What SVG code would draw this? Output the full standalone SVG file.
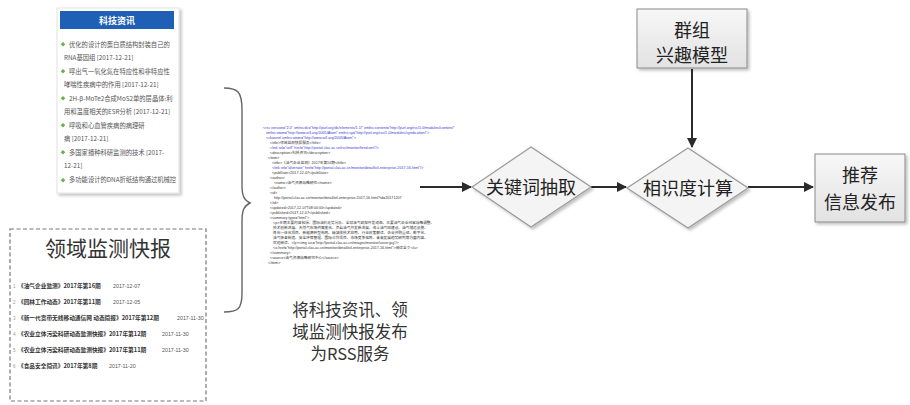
<svg xmlns="http://www.w3.org/2000/svg" width="910" height="405" viewBox="0 0 910 405">
<defs>
<marker id="ah" viewBox="0 0 10 10" refX="9" refY="5" markerWidth="5" markerHeight="5" orient="auto" markerUnits="strokeWidth"><path d="M0,0 L10,5 L0,10 Z" fill="#2b2b2b"/></marker>
<linearGradient id="bx" x1="0" y1="0" x2="0" y2="1"><stop offset="0" stop-color="#f7f7f7"/><stop offset="1" stop-color="#e2e2e2"/></linearGradient>
<filter id="sh" x="-10%" y="-10%" width="130%" height="130%"><feDropShadow dx="2" dy="2" stdDeviation="1.5" flood-color="#000" flood-opacity="0.25"/></filter>
</defs>
<style>
.cjk{font-family:"Noto Sans CJK SC","Noto Sans",sans-serif;}
.node{font-family:"Noto Sans CJK SC",sans-serif;font-size:18px;fill:#222;text-anchor:middle;}
.it{font-family:"Noto Sans CJK SC",sans-serif;font-size:6.3px;fill:#555;}
.bl{font-family:"Noto Sans CJK SC",sans-serif;font-size:5.7px;fill:#333;font-weight:bold;}
.dt{font-family:"Liberation Sans",sans-serif;font-size:5.3px;fill:#555;}
.num{font-family:"Liberation Sans",sans-serif;font-size:4.5px;fill:#999;}
.x{font-family:"Liberation Sans","Noto Sans CJK SC",sans-serif;font-size:3.7px;fill:#333;}
.xb{font-family:"Liberation Sans",sans-serif;font-size:3.7px;fill:#3a3ad0;}
.con{stroke:#2b2b2b;stroke-width:2;fill:none;marker-end:url(#ah);}
</style>
<rect width="910" height="405" fill="#fff"/>

<g id="news-panel">
<rect x="57" y="8" width="122" height="185" fill="#fff" stroke="#e4e4e4" filter="url(#sh)"/>
<rect x="60" y="11" width="114" height="18" fill="#1f5fb5"/>
<text x="117" y="24" class="cjk" font-size="9" font-weight="bold" fill="#fff" text-anchor="middle">科技资讯</text>
<g fill="#6ab04c">
<path d="M63,42 l2.3,2.3 l-2.3,2.3 l-2.3,-2.3z"/>
<path d="M63,69 l2.3,2.3 l-2.3,2.3 l-2.3,-2.3z"/>
<path d="M63,96 l2.3,2.3 l-2.3,2.3 l-2.3,-2.3z"/>
<path d="M63,123 l2.3,2.3 l-2.3,2.3 l-2.3,-2.3z"/>
<path d="M63,150 l2.3,2.3 l-2.3,2.3 l-2.3,-2.3z"/>
<path d="M63,178 l2.3,2.3 l-2.3,2.3 l-2.3,-2.3z"/>
</g>
<text x="69" y="46.5" class="it">优化的设计的蛋白质结构封装自己的</text>
<text x="64" y="60" class="it">RNA基因组 [2017-12-21]</text>
<text x="69" y="73.5" class="it">呼出气一氧化氮在特应性和非特应性</text>
<text x="64" y="87" class="it">哮喘性疾病中的作用 [2017-12-21]</text>
<text x="69" y="100.5" class="it">2H-β-MoTe2合成MoS2单的层晶体:利</text>
<text x="64" y="114" class="it">用和温度相关的ESR分析 [2017-12-21]</text>
<text x="69" y="127.5" class="it">呼吸和心血管疾病的病理研</text>
<text x="64" y="141" class="it">病 [2017-12-21]</text>
<text x="69" y="154.5" class="it">多国家播种科研监测的技术 [2017-</text>
<text x="64" y="168" class="it">12-21]</text>
<text x="69" y="182" class="it">多功能设计的DNA折纸结构通过机械控</text>
</g>

<g id="bulletin-panel">
<rect x="10" y="229" width="196" height="172" fill="#fff" stroke="#777" stroke-width="1.2" stroke-dasharray="4,2.5"/>
<text x="108" y="256" font-family="Noto Sans CJK SC,sans-serif" font-size="21" fill="#333" text-anchor="middle">领域监测快报</text>
<text x="13" y="288" class="num">1</text>
<text x="18" y="288" class="bl">《油气企业监测》2017年第16期</text>
<text x="113" y="288" class="dt">2017-12-07</text>
<text x="13" y="304" class="num">2</text>
<text x="18" y="304" class="bl">《园林工作动态》2017年第11期</text>
<text x="113" y="304" class="dt">2017-12-05</text>
<text x="13" y="320" class="num">3</text>
<text x="18" y="320" class="bl">《新一代宽带无线移动通信网 动态简报》2017年第12期</text>
<text x="177" y="320" class="dt">2017-11-30</text>
<text x="13" y="336" class="num">4</text>
<text x="18" y="336" class="bl">《农业立体污染科研动态监测快报》2017年第12期</text>
<text x="162" y="336" class="dt">2017-11-30</text>
<text x="13" y="352" class="num">5</text>
<text x="18" y="352" class="bl">《农业立体污染科研动态监测快报》2017年第11期</text>
<text x="162" y="352" class="dt">2017-11-30</text>
<text x="13" y="368" class="num">6</text>
<text x="18" y="368" class="bl">《食品安全简讯》2017年第8期</text>
<text x="109" y="368" class="dt">2017-11-20</text>
</g>

<g id="brace">
<path d="M224,88 C238,88 242,92 242,110 L242,185 C242,196 244,200 250,203 C244,206 242,210 242,221 L242,293 C242,309 238,312 224,312" fill="none" stroke="#666" stroke-width="1.4"/>
</g>

<g id="rss-xml">
<text x="263" y="129" class="xb">&lt;rss version="2.0" xmlns:dc="http://purl.org/dc/elements/1.1/" xmlns:content="http://purl.org/rss/1.0/modules/content/"</text>
<text x="266" y="134" class="xb">xmlns:atom="http://www.w3.org/2005/Atom" xmlns:sy="http://purl.org/rss/1.0/modules/syndication/"&gt;</text>
<text x="266" y="139" class="xb">&lt;channel xmlns:atom="http://www.w3.org/2005/Atom"&gt;</text>
<text x="270" y="144" class="x">&lt;title&gt;领域监测快报服务&lt;/title&gt;</text>
<text x="270" y="149" class="xb">&lt;link rel="self" href="http://portal.clas.ac.cn/rss/monitor/feed.xml"/&gt;</text>
<text x="270" y="154" class="x">&lt;description&gt;科技资讯&lt;/description&gt;</text>
<text x="268" y="159" class="x">&lt;item&gt;</text>
<text x="272" y="164" class="x">&lt;title&gt;《油气企业监测》2017年第16期&lt;/title&gt;</text>
<text x="272" y="169" class="xb">&lt;link rel="alternate" href="http://portal.clas.ac.cn/monitor/detail/oil-enterprise-2017-16.html"/&gt;</text>
<text x="272" y="174" class="x">&lt;pubDate&gt;2017-12-07&lt;/pubDate&gt;</text>
<text x="270" y="179" class="x">&lt;author&gt;</text>
<text x="274" y="184" class="x">&lt;name&gt;油气资源战略研究&lt;/name&gt;</text>
<text x="270" y="189" class="x">&lt;/author&gt;</text>
<text x="270" y="194" class="x">&lt;id&gt;</text>
<text x="274" y="199" class="x">http://portal.clas.ac.cn/monitor/detail/oil-enterprise-2017-16.html?id=20171207</text>
<text x="270" y="204" class="x">&lt;/id&gt;</text>
<text x="270" y="209" class="x">&lt;updated&gt;2017-12-07T08:00:00&lt;/updated&gt;</text>
<text x="270" y="214" class="x">&lt;published&gt;2017-12-07&lt;/published&gt;</text>
<text x="270" y="219" class="x">&lt;summary type="html"&gt;</text>
<text x="273" y="224" class="x">&lt;p&gt;本期主要内容包括：国际油价走势分析、全球油气勘探开发动态、主要油气企业经营战略调整、</text>
<text x="273" y="229" class="x">技术创新进展、天然气市场供需变化、页岩油气开发新进展、海上油气田建设、油气储运设施、</text>
<text x="273" y="234" class="x">炼化一体化项目、新能源转型布局、碳减排技术应用、行业政策解读、企业并购重组、数字化、</text>
<text x="273" y="239" class="x">油气装备制造、安全环保管理、国际合作项目、市场竞争格局、未来发展趋势研判等方面内容。</text>
<text x="273" y="244" class="x">欢迎阅读。&lt;/p&gt;&lt;img src="http://portal.clas.ac.cn/images/monitor/cover.jpg"/&gt;</text>
<text x="273" y="249" class="x">&lt;a href="http://portal.clas.ac.cn/monitor/detail/oil-enterprise-2017-16.html"&gt;阅读全文&lt;/a&gt;</text>
<text x="270" y="254" class="x">&lt;/summary&gt;</text>
<text x="270" y="259" class="x">&lt;source&gt;油气资源战略研究中心&lt;/source&gt;</text>
<text x="268" y="264" class="x">&lt;/item&gt;</text>
</g>

<g id="rss-caption">
<text x="350" y="316" class="cjk" font-size="16.5" fill="#333" text-anchor="middle">将科技资讯、领</text>
<text x="350" y="338" class="cjk" font-size="16.5" fill="#333" text-anchor="middle">域监测快报发布</text>
<text x="350" y="360" class="cjk" font-size="16.5" fill="#333" text-anchor="middle">为RSS服务</text>
</g>

<g id="connectors">
<line x1="420" y1="187" x2="471" y2="187" class="con"/>
<line x1="591" y1="187" x2="626" y2="187" class="con"/>
<line x1="748" y1="187" x2="813" y2="187" class="con"/>
<line x1="692" y1="69" x2="692" y2="147" class="con"/>
</g>

<g id="keyword-extraction">
<path d="M531,147 L591,187 L531,227 L472,187 Z" fill="#f4f4f4" stroke="#9a9a9a" stroke-width="1.2" filter="url(#sh)"/>
<text x="531" y="194" class="node">关键词抽取</text>
</g>

<g id="similarity">
<path d="M688,148 L748,188 L688,228 L627,188 Z" fill="#f4f4f4" stroke="#9a9a9a" stroke-width="1.2" filter="url(#sh)"/>
<text x="688" y="195" class="node">相识度计算</text>
</g>

<g id="group-interest">
<rect x="637" y="9" width="110" height="59" fill="url(#bx)" stroke="#8a8a8a" stroke-width="1" filter="url(#sh)"/>
<text x="692" y="37" class="node">群组</text>
<text x="692" y="62" class="node">兴趣模型</text>
</g>

<g id="recommend">
<rect x="815" y="154" width="90" height="68" fill="url(#bx)" stroke="#8a8a8a" stroke-width="1" filter="url(#sh)"/>
<text x="860" y="182" class="node">推荐</text>
<text x="860" y="209" class="node">信息发布</text>
</g>
</svg>
